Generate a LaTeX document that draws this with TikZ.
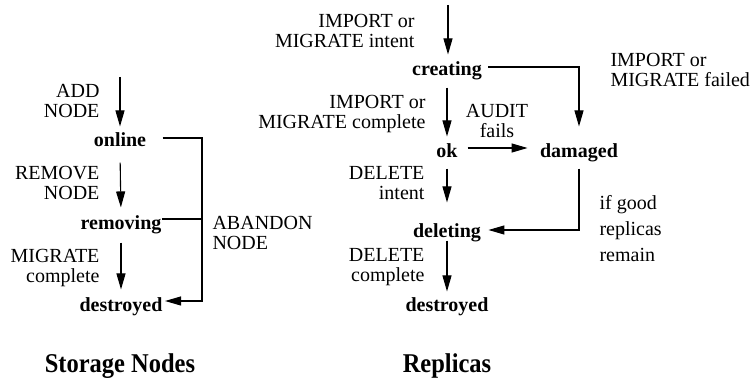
\documentclass[tikz,border=0pt]{standalone}
\usepackage{fontspec}
\setmainfont{Liberation Serif}
\usetikzlibrary{arrows.meta}
\begin{document}
\begin{tikzpicture}[x=1pt,y=-1pt,line width=1.1pt,
  lbl/.style={font=\fontsize{20}{20}\selectfont, inner sep=0pt},
  st/.style={font=\fontsize{20}{20}\selectfont\bfseries, inner sep=0pt, text height=14pt, text depth=4pt, anchor=base},
  ttl/.style={font=\fontsize{24}{24}\selectfont\bfseries, inner sep=0pt, anchor=base},
  arr/.style={-{Triangle[length=16pt,width=9pt]}}]
\useasboundingbox (0,0) rectangle (756,379);

% ---------- Storage nodes ----------
\node[st] (online) at (120,147) {online};
\node[st] (removing) at (121,230) {removing};
\node[st] (destroyedA) at (121,312) {destroyed};
\coordinate (topA) at (120,77);
\coordinate (cA2) at (202,301);
\coordinate (cA3) at (202,219);

\node[lbl,anchor=east,align=right] (lAdd) at (100,101.4) {ADD\\NODE};
\node[lbl,anchor=east,align=right] (lRem) at (100,183.4) {REMOVE\\NODE};
\node[lbl,anchor=east,align=right] (lMig) at (100,267.6) {MIGRATE\\complete};
\node[lbl,anchor=west,align=left] (lAb) at (212,233.4) {ABANDON\\NODE};

\draw[arr,shorten >=6pt] (topA) -- (online.north);
\draw[arr,shorten <=11pt,shorten >=8pt] (online.south) -- (removing.north);
\draw[arr,shorten <=8pt,shorten >=8pt] (removing.south) -- (destroyedA.north);
\draw[arr,shorten <=16pt,shorten >=2pt] ([yshift=4pt]online.east) -| (cA2) -- (destroyedA.east |- cA2);
\draw ([yshift=6pt]removing.east) -- (cA3);

% ---------- Replicas ----------
\node[st] (creating) at (447,76) {creating};
\node[st] (ok) at (447,158) {ok};
\node[st] (damaged) at (579,158) {damaged};
\node[st] (deleting) at (447,238) {deleting};
\node[st] (destroyedB) at (447,312) {destroyed};
\coordinate (topB) at (448,5);
\coordinate (cB3) at (580,230);

\node[lbl,anchor=east,align=right] (lImp) at (415,31.4) {IMPORT or\\MIGRATE intent};
\node[lbl,anchor=west,align=left] (lFail) at (610,70.4) {IMPORT or\\MIGRATE failed};
\node[lbl,anchor=east,align=right] (lComp) at (426,113.6) {IMPORT or\\MIGRATE complete};
\node[lbl,align=center] (lAudit) at (497,121.4) {AUDIT\\fails};
\node[lbl,anchor=east,align=right] (lDel) at (425,183.4) {DELETE\\intent};
\node[lbl,anchor=east,align=right] (lDelC) at (425,267) {DELETE\\complete};
\node[lbl,anchor=west,align=left,font=\fontsize{20}{26}\selectfont] (lGood) at (599,229) {if good\\replicas\\remain};

\draw[arr,shorten >=7pt] (topB) -- (topB |- creating.north);
\draw[arr,shorten <=7pt,shorten >=7pt] (creating.south) -- (ok.north);
\draw[arr,shorten <=6pt,shorten >=21pt] (ok.south) -- (deleting.north);
\draw[arr,shorten <=-2pt,shorten >=6pt] (deleting.south) -- (destroyedB.north);
\draw[arr,shorten <=6pt,shorten >=17pt] ([yshift=4pt]creating.east) -| (damaged.north);
\draw[arr,shorten <=9.5pt,shorten >=12pt] ([yshift=5pt]ok.east) -- ([yshift=5pt]damaged.west);
\draw[arr,shorten <=6pt,shorten >=7pt] (damaged.south) |- (deleting.east |- cB3);

% ---------- Titles ----------
\node[ttl] (tA) at (120,373) {\scalebox{1.02}[1.13]{Storage Nodes}};
\node[ttl] (tB) at (447,373) {\scalebox{1.02}[1.13]{Replicas}};
\end{tikzpicture}
\end{document}
